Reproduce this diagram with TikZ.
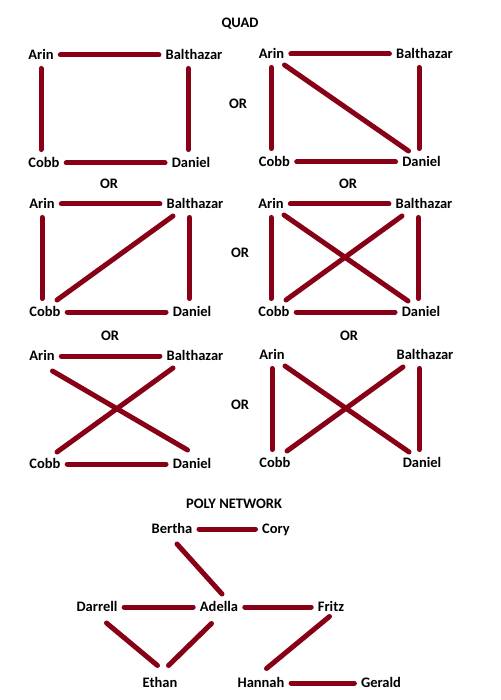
\documentclass[tikz,border=0pt]{standalone}
\usepackage{fontspec}
\setmainfont{Carlito}
\usetikzlibrary{calc}
\definecolor{edgered}{RGB}{136,0,21}
\newcommand\quadnodes[3]{%
  \begin{scope}[shift={(#2,#3)}]
    \node[person] (#1A) at (0,0) {Arin};
    \node[person] (#1B) at (153,0) {Balthazar};
    \node[person] (#1C) at (3,108) {Cobb};
    \node[person] (#1D) at (150,108) {Daniel};
  \end{scope}}
\newcommand\edgeAB[1]{\draw[tie] (#1A) -- (#1B);}
\newcommand\edgeCD[1]{\draw[tie] (#1C) -- (#1D);}
\newcommand\edgeAC[1]{\draw[tie] (#1A.south) -- (#1A.south |- #1C.north);}
\newcommand\edgeBD[1]{\draw[tie] ([xshift=-5.5pt]#1B.south) -- ([xshift=-5.5pt]#1B.south |- #1D.north);}
\newcommand\edgeAD[1]{\draw[tie] ($(#1A)+(13,11)$) -- ($(#1D)+(-13,-11)$);}
\newcommand\edgeCB[1]{\draw[tie] ($(#1C)+(12,-12)$) -- ($(#1B)+(-22,12)$);}
\begin{document}
\begin{tikzpicture}[x=1pt,y=-1pt,
  person/.style={font=\bfseries\fontsize{14.5}{17}\selectfont, inner xsep=6.5pt, inner ysep=8.5pt, text height=9.5pt, text depth=0pt},
  headtext/.style={font=\bfseries\fontsize{14.5}{17}\selectfont, inner sep=0pt, text height=9.5pt, text depth=0pt},
  tie/.style={draw=edgered, line width=5pt, line cap=round}]
\useasboundingbox[fill=white] (0,0) rectangle (500,700);

\node[headtext] (quadtitle) at (240,23) {QUAD};
\node[headtext] (or1) at (238,104) {OR};
\node[headtext] (or2) at (109,184) {OR};
\node[headtext] (or3) at (348,184) {OR};
\node[headtext] (or4) at (240,253) {OR};
\node[headtext] (or5) at (110,336) {OR};
\node[headtext] (or6) at (349,336) {OR};
\node[headtext] (or7) at (240,405) {OR};

\quadnodes{qa}{41}{55}
\quadnodes{qb}{271.5}{54}
\quadnodes{qc}{42}{204}
\quadnodes{qd}{271}{204}
\quadnodes{qe}{42}{356}
\quadnodes{qf}{272}{355}

% panel 1
\edgeAB{qa}\edgeAC{qa}\edgeBD{qa}\edgeCD{qa}
% panel 2
\edgeAB{qb}\edgeAC{qb}\edgeBD{qb}\edgeCD{qb}\edgeAD{qb}
% panel 3
\edgeAB{qc}\edgeAC{qc}\edgeBD{qc}\edgeCD{qc}\edgeCB{qc}
% panel 4
\edgeAB{qd}\edgeAC{qd}\edgeBD{qd}\edgeCD{qd}\edgeAD{qd}\edgeCB{qd}
% panel 5
\edgeAB{qe}\edgeCD{qe}\edgeCB{qe}
\draw[tie] ($(qeA)+(10.5,15)$) -- ($(qeD)+(-4.5,-14)$);
% panel 6
\edgeAC{qf}\edgeBD{qf}\edgeAD{qf}\edgeCB{qf}

% poly network
\node[headtext] (polytitle) at (234,504) {POLY NETWORK};
\node[person] (bertha) at (172,529) {Bertha};
\node[person] (cory) at (276,529) {Cory};
\node[person] (darrell) at (97,607) {Darrell};
\node[person] (adella) at (219,607) {Adella};
\node[person] (fritz) at (331,607) {Fritz};
\node[person] (ethan) at (160,683) {Ethan};
\node[person] (hannah) at (261,683) {Hannah};
\node[person] (gerald) at (381,683) {Gerald};

\draw[tie] (bertha) -- (cory);
\draw[tie] ($(bertha)+(5,15)$) -- ($(adella)+(3,-13)$);
\draw[tie] (darrell) -- (adella);
\draw[tie] (adella) -- (fritz);
\draw[tie] ($(darrell)+(9.5,16)$) -- ($(ethan)+(-2.5,-17.5)$);
\draw[tie] ($(adella)+(-7.5,16.5)$) -- ($(ethan)+(8.5,-17.5)$);
\draw[tie] ($(fritz)+(-1.5,9.5)$) -- ($(hannah)+(5.5,-14.5)$);
\draw[tie] (hannah) -- (gerald);
\end{tikzpicture}
\end{document}
